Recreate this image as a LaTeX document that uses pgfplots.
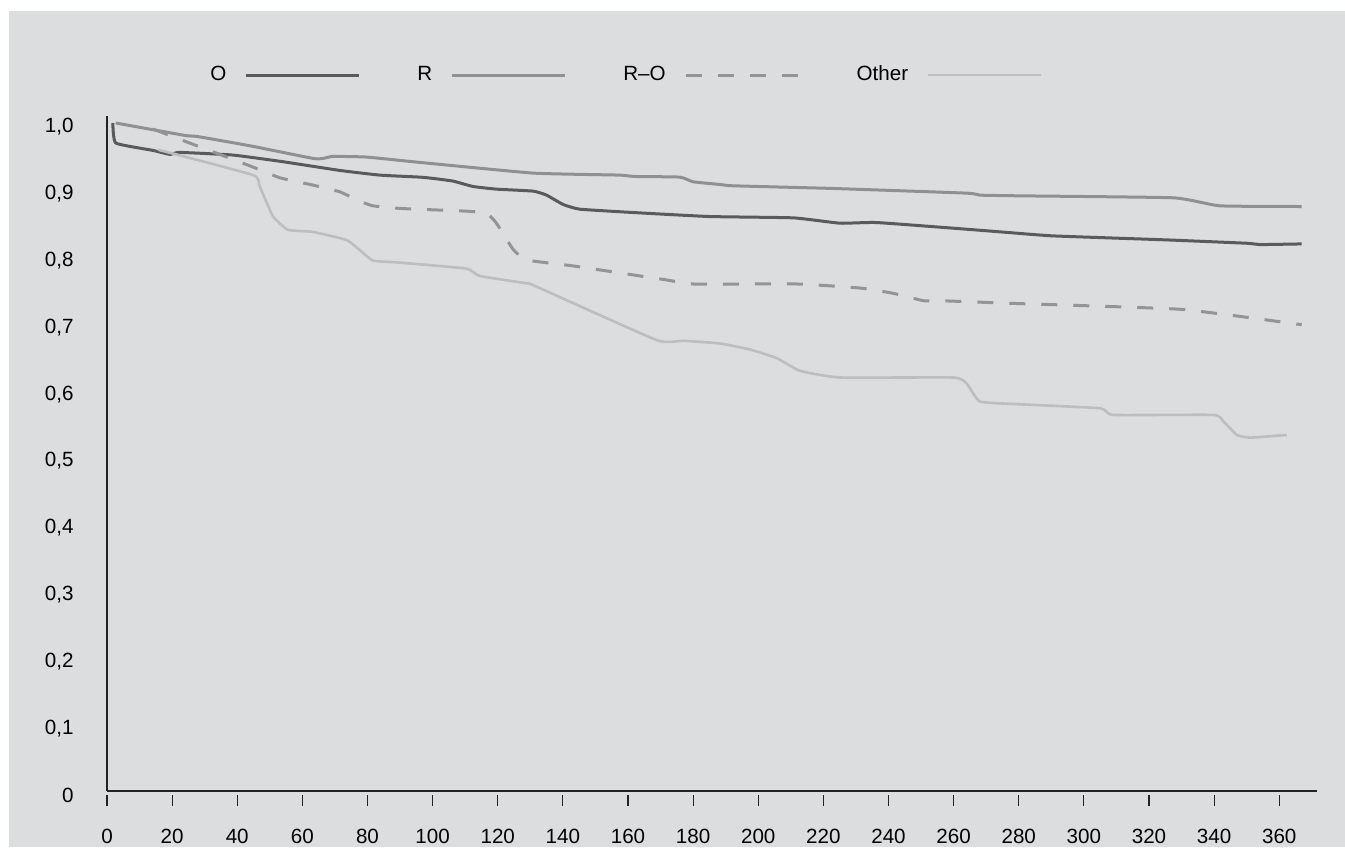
\documentclass[border=0pt]{standalone}
\usepackage{pgfplots}
\pgfplotsset{compat=1.18}
\usepackage{fontspec}
\setmainfont{Liberation Sans}
\definecolor{bg}{HTML}{DCDDDF}
\definecolor{cO}{HTML}{5A5A5C}
\definecolor{cR}{HTML}{8F9092}
\definecolor{cRO}{HTML}{939496}
\definecolor{cOt}{HTML}{BDBEC0}
\definecolor{ax}{HTML}{232323}
\begin{document}
\begin{tikzpicture}
\fill[white] (0,0) rectangle (672.5pt,423.5pt);
\fill[bg] (4.5pt,0) rectangle (672.5pt,418pt);
\begin{axis}[
  at={(53.5pt,28pt)}, anchor=south west,
  scale only axis, width=605pt, height=337.5pt,
  xmin=0, xmax=371.6, ymin=0, ymax=1.0105,
  axis x line*=bottom, axis y line*=left,
  axis line style={ax, line width=0.7pt},
  xtick={0,20,40,60,80,100,120,140,160,180,200,220,240,260,280,300,320,340,360},
  ytick={0,0.1,0.2,0.3,0.4,0.5,0.6,0.7,0.8,0.9,1.0},
  yticklabels={0,{0,1},{0,2},{0,3},{0,4},{0,5},{0,6},{0,7},{0,8},{0,9},{1,0}},
  /pgf/number format/assume math mode=true,
  tick align=outside,
  major tick length=5.5pt,
  xtick style={ax, line width=0.6pt, yshift=-2pt},
  ytick style={draw=none},
  xticklabel style={anchor=north, inner sep=0pt, yshift=-13.5pt, font=\fontsize{10.3}{12}\selectfont},
  yticklabel style={anchor=east, inner sep=0pt, xshift=-11pt, yshift=-2pt, font=\fontsize{10.3}{12}\selectfont},
  legend style={at={(0.0851,1.0607)}, anchor=west, draw=none, fill=none, inner sep=0pt,
    font=\fontsize{10.3}{12}\selectfont, column sep=0pt, row sep=0pt, nodes={inner sep=0pt}},
  legend columns=4,
  legend plot pos=right,
  legend image code/.code={\path[draw=none,fill=none] (0pt,0pt) -- (95.5pt,0pt); \draw[#1,sharp plot] (10pt,0pt) -- (66.5pt,0pt);},
  every axis plot/.append style={line join=round, line cap=butt, smooth, tension=0.25},
]
\addplot[cO, line width=1.5pt] table {
1.8 1.000
2.7 0.970
14.1 0.959
19.3 0.953
22.3 0.956
38.7 0.952
54.1 0.942
71.5 0.929
83.8 0.922
96.1 0.919
100.2 0.917
106.3 0.913
112.4 0.905
119.6 0.901
130.9 0.898
135.0 0.892
140.1 0.878
145.2 0.871
161.6 0.866
185.0 0.860
210.8 0.858
225.1 0.850
236.4 0.851
264.0 0.841
277.0 0.836
290.6 0.831
325.5 0.825
350.0 0.820
354.1 0.818
366.9 0.819
};
\addlegendentry{O}
\addplot[cR, line width=1.5pt] table {
2.7 1.000
24.4 0.981
27.5 0.980
43.8 0.966
63.3 0.947
66.4 0.947
69.4 0.950
79.7 0.949
96.1 0.941
130.9 0.925
157.5 0.922
161.6 0.920
175.9 0.919
180.0 0.912
188.2 0.908
192.3 0.906
223.0 0.902
264.0 0.895
268.1 0.892
280.0 0.891
327.5 0.888
341.8 0.876
366.9 0.875
};
\addlegendentry{R}
\addplot[cRO, line width=1.5pt, dash pattern=on 8pt off 8pt] table {
14.1 0.991
25.4 0.970
43.8 0.936
53.1 0.918
63.3 0.907
71.5 0.897
77.6 0.883
81.7 0.876
90.4 0.872
110.4 0.868
116.6 0.865
119.6 0.850
124.7 0.811
128.8 0.795
143.2 0.786
171.9 0.765
180.0 0.759
211.8 0.759
231.2 0.753
241.5 0.745
250.7 0.734
255.8 0.734
278.0 0.730
330.0 0.721
366.9 0.698
};
\addlegendentry{R--O}
\addplot[cOt, line width=1.3pt] table {
15.7 0.960
44.9 0.922
46.9 0.905
51.0 0.860
55.6 0.840
63.3 0.837
73.5 0.825
77.6 0.810
81.7 0.794
90.0 0.791
110.4 0.782
114.5 0.771
128.8 0.760
131.0 0.757
168.8 0.675
177.0 0.674
188.2 0.670
197.4 0.661
205.7 0.648
212.8 0.629
225.1 0.619
259.9 0.619
264.0 0.610
268.1 0.583
280.0 0.579
305.0 0.573
309.1 0.563
339.8 0.563
342.9 0.553
347.0 0.533
351.1 0.529
362.3 0.533
};
\addlegendentry{Other}
\end{axis}
\end{tikzpicture}
\end{document}
